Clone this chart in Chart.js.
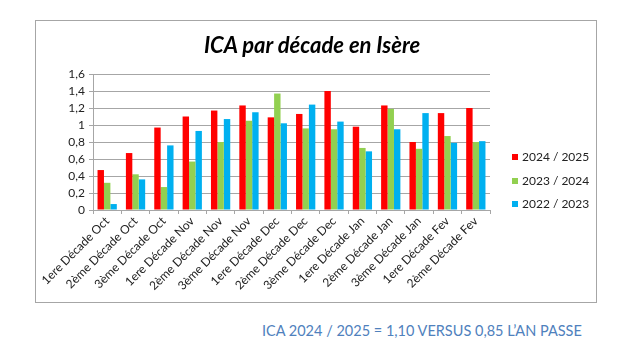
<!DOCTYPE html>
<html>
<head>
<meta charset="utf-8">
<script src="https://cdn.jsdelivr.net/npm/chart.js@4"></script>
<style>
  html,body{margin:0;padding:0;background:#fff;}
  body{width:639px;height:354px;position:relative;overflow:hidden;font-family:Lato,"Open Sans",sans-serif;}
  #frame{position:absolute;left:35px;top:20px;width:560px;height:281px;border:1px solid #a6a6a6;}
  #wrap{position:absolute;left:0;top:0;width:560px;height:281px;}
  #title{position:absolute;left:0;width:552px;top:11px;text-align:center;font-size:22px;font-weight:bold;font-style:italic;color:#000;white-space:nowrap;line-height:26px;}
  #legend{position:absolute;left:476px;top:129px;}
  .li{position:absolute;left:0;white-space:nowrap;font-size:12px;color:#222;line-height:14px;}
  .sw{display:inline-block;width:6px;height:6px;margin-right:4px;vertical-align:1px;}
  #foot{position:absolute;left:262px;top:322px;font-size:14.5px;color:#4f81bd;white-space:nowrap;}
</style>
</head>
<body>
<div id="frame"><div id="wrap"><canvas id="c" width="560" height="281"></canvas></div><div id="title"></div><div id="legend"></div></div>
<div id="foot">ICA 2024 / 2025 = 1,10 VERSUS 0,85 L’AN PASSE</div>
<script>
const categories = ["1ere Décade Oct","2ème Décade Oct","3ème Décade Oct","1ere Décade Nov","2ème Décade Nov","3ème Décade Nov","1ere Décade Dec","2ème Décade Dec","3ème Décade Dec","1ere Décade Jan","2ème Décade Jan","3ème Décade Jan","1ere Décade Fev","2ème Décade Fev"];
const s2024 = [0.47,0.67,0.97,1.10,1.17,1.23,1.09,1.13,1.40,0.98,1.23,0.80,1.14,1.20];
const s2023 = [0.32,0.42,0.27,0.57,0.80,1.05,1.37,0.96,0.95,0.73,1.19,0.72,0.87,0.80];
const s2022 = [0.07,0.36,0.76,0.93,1.07,1.15,1.02,1.24,1.04,0.69,0.95,1.14,0.79,0.81];
const seriesLabels = ["2024 / 2025","2023 / 2024","2022 / 2023"];
const titleText = "ICA par décade en Isère";
const yTicks = [0,0.2,0.4,0.6,0.8,1,1.2,1.4,1.6];

document.getElementById('title').textContent = titleText;
const colors = ["#ff0000","#92d050","#00b0f0"];
const data = {
  labels: categories,
  datasets: [s2024,s2023,s2022].map((d,i)=>({
    label: seriesLabels[i], data: d, backgroundColor: colors[i],
    borderColor: colors[i], borderWidth: 0,
    categoryPercentage: 0.68, barPercentage: 1.0
  }))
};
const fmt = v => String(Math.round(v*10)/10).replace('.',',');
new Chart(document.getElementById('c'), {
  type: 'bar',
  data,
  options: {
    responsive: false, animation: false,
    layout: {padding: {left: 0, right: 106, top: 53, bottom: 0}},
    plugins: {
      legend: {display: false},
      tooltip: {enabled: false},
      title: {display: false}
    },
    scales: {
      x: {
        offset: true,
        grid: {display: true, offset: true, drawOnChartArea: false, drawTicks: true, tickLength: 4, color: '#a6a6a6'},
        border: {display: true, color: '#a6a6a6'},
        ticks: {color: '#222', font: {family: 'Lato', size: 12}, minRotation: 45, maxRotation: 45, autoSkip: false, padding: 0},
        afterFit: s => { s.height = 92; }
      },
      y: {
        min: 0, max: 1.6,
        afterBuildTicks: s => { s.ticks = yTicks.map(v=>({value:v})); },
        grid: {color: '#a6a6a6', lineWidth: 1, drawTicks: true, tickLength: 4},
        border: {display: true, color: '#a6a6a6'},
        ticks: {color: '#222', font: {family: 'Lato', size: 12}, padding: 4, autoSkip: false, callback: v => fmt(v)},
        afterFit: s => { s.width = 57; }
      }
    }
  }
});
const lg = document.getElementById('legend');
seriesLabels.forEach((l,i)=>{
  const d = document.createElement('div');
  d.className = 'li';
  d.style.top = (i*23.5) + 'px';
  d.innerHTML = '<span class="sw" style="background:'+colors[i]+'"></span>' + l;
  lg.appendChild(d);
});
</script>
</body>
</html>
